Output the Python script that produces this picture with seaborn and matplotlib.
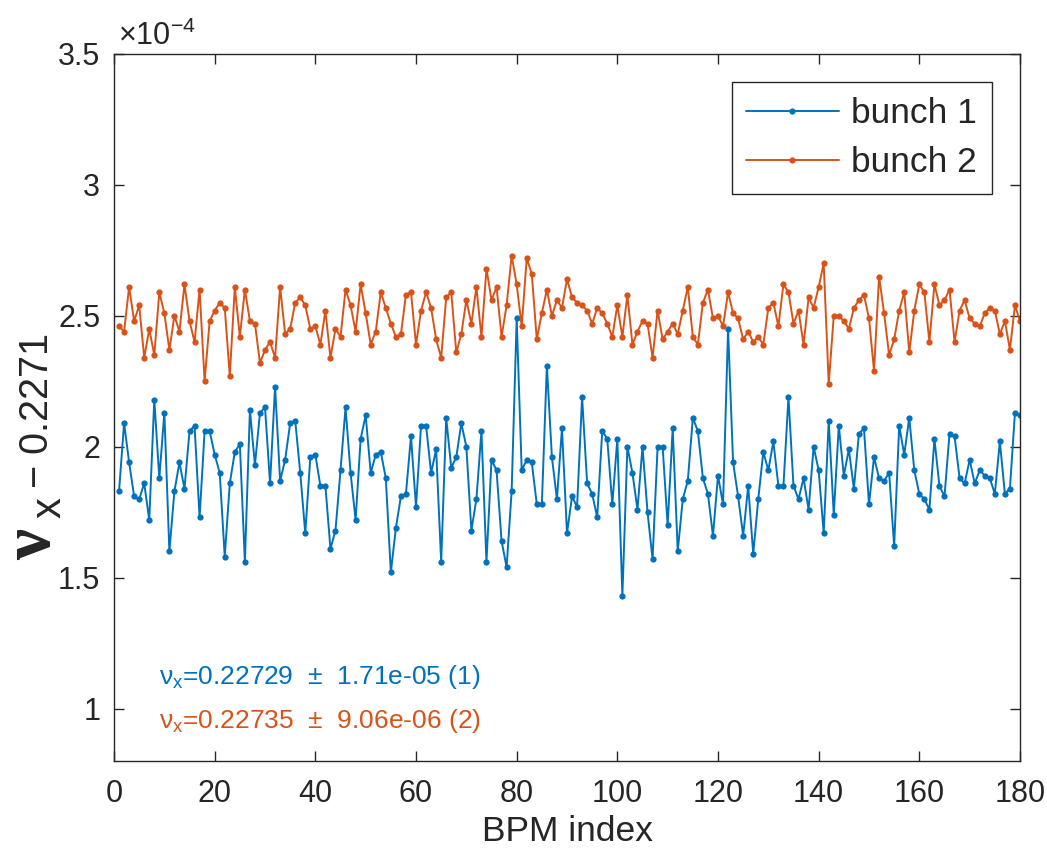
import numpy as np
import pandas as pd
import seaborn as sns
from matplotlib import pyplot as plt

# tune shift nu_x - 0.2271, in units of 1e-4
bpm = list(range(1, 181))
bunch1 = [1.83, 2.09, 1.94, 1.81, 1.80, 1.86, 1.72, 2.18, 1.88, 2.13,
          1.60, 1.83, 1.94, 1.84, 2.06, 2.08, 1.73, 2.06, 2.06, 1.97,
          1.90, 1.58, 1.86, 1.98, 2.01, 1.56, 2.14, 1.93, 2.13, 2.15,
          1.86, 2.23, 1.87, 1.95, 2.09, 2.10, 1.90, 1.67, 1.96, 1.97,
          1.85, 1.85, 1.61, 1.68, 1.91, 2.15, 1.90, 1.72, 2.03, 2.12,
          1.90, 1.97, 1.98, 1.88, 1.52, 1.69, 1.81, 1.82, 2.04, 1.77,
          2.08, 2.08, 1.90, 1.99, 1.56, 2.11, 1.92, 1.96, 2.09, 2.00,
          1.68, 1.80, 2.06, 1.56, 1.95, 1.91, 1.64, 1.54, 1.83, 2.49,
          1.91, 1.95, 1.94, 1.78, 1.78, 2.31, 1.96, 1.80, 2.07, 1.67,
          1.81, 1.77, 2.19, 1.86, 1.82, 1.73, 2.06, 2.03, 1.78, 2.03,
          1.43, 2.00, 1.90, 1.76, 2.00, 1.75, 1.57, 2.00, 2.00, 1.70,
          2.07, 1.60, 1.80, 1.87, 2.11, 2.06, 1.88, 1.82, 1.66, 1.89,
          1.78, 2.45, 1.94, 1.81, 1.66, 1.85, 1.59, 1.80, 1.98, 1.91,
          2.02, 1.85, 1.85, 2.19, 1.85, 1.80, 1.88, 1.76, 2.00, 1.91,
          1.67, 2.10, 1.74, 2.08, 1.89, 1.99, 1.84, 2.05, 2.07, 1.78,
          1.96, 1.88, 1.87, 1.90, 1.62, 2.08, 1.97, 2.11, 1.91, 1.82,
          1.80, 1.76, 2.03, 1.85, 1.81, 2.05, 2.04, 1.88, 1.86, 1.95,
          1.86, 1.91, 1.89, 1.88, 1.82, 2.02, 1.82, 1.84, 2.13, 2.12]
bunch2 = [2.46, 2.44, 2.61, 2.48, 2.54, 2.34, 2.45, 2.35, 2.59, 2.51,
          2.37, 2.50, 2.44, 2.62, 2.48, 2.40, 2.60, 2.25, 2.48, 2.52,
          2.55, 2.53, 2.27, 2.61, 2.42, 2.60, 2.48, 2.47, 2.32, 2.37,
          2.40, 2.34, 2.61, 2.43, 2.45, 2.55, 2.57, 2.54, 2.45, 2.46,
          2.39, 2.52, 2.34, 2.45, 2.42, 2.60, 2.54, 2.44, 2.62, 2.51,
          2.39, 2.44, 2.59, 2.53, 2.47, 2.42, 2.43, 2.58, 2.59, 2.39,
          2.52, 2.59, 2.53, 2.41, 2.34, 2.57, 2.59, 2.36, 2.43, 2.56,
          2.47, 2.61, 2.42, 2.68, 2.56, 2.61, 2.42, 2.54, 2.73, 2.62,
          2.46, 2.72, 2.66, 2.41, 2.51, 2.60, 2.50, 2.56, 2.53, 2.64,
          2.57, 2.55, 2.54, 2.52, 2.47, 2.53, 2.51, 2.47, 2.42, 2.54,
          2.42, 2.58, 2.39, 2.44, 2.48, 2.47, 2.34, 2.52, 2.41, 2.44,
          2.47, 2.43, 2.52, 2.61, 2.42, 2.39, 2.55, 2.60, 2.49, 2.50,
          2.46, 2.59, 2.51, 2.49, 2.41, 2.44, 2.40, 2.42, 2.39, 2.53,
          2.55, 2.46, 2.62, 2.59, 2.47, 2.52, 2.39, 2.57, 2.53, 2.61,
          2.70, 2.24, 2.50, 2.50, 2.48, 2.45, 2.53, 2.56, 2.58, 2.49,
          2.29, 2.65, 2.51, 2.35, 2.41, 2.52, 2.59, 2.36, 2.52, 2.62,
          2.59, 2.40, 2.62, 2.54, 2.56, 2.60, 2.40, 2.52, 2.56, 2.49,
          2.47, 2.46, 2.51, 2.53, 2.52, 2.43, 2.48, 2.37, 2.54, 2.48]
labels = ["bunch 1", "bunch 2"]
colors = ["#0072BD", "#D95319"]
fit_text = ["0.22729", "0.22735"]
fit_err = ["1.71e-05", "9.06e-06"]

df = pd.DataFrame({
    "BPM": bpm * 2,
    "dnu": bunch1 + bunch2,
    "bunch": [labels[0]] * len(bpm) + [labels[1]] * len(bpm),
})

sns.set_style("ticks")
gray = "#262626"
plt.rcParams["font.family"] = ["Liberation Sans", "DejaVu Sans"]
plt.rcParams["mathtext.fontset"] = "custom"
plt.rcParams["mathtext.rm"] = "Liberation Sans"
plt.rcParams["mathtext.it"] = "Liberation Sans"
plt.rcParams["axes.edgecolor"] = gray
plt.rcParams["xtick.color"] = gray
plt.rcParams["ytick.color"] = gray

fig = plt.figure(figsize=(10.47, 8.56), dpi=100)
ax = fig.add_axes([0.1089, 0.111, 0.8653, 0.826])

sns.lineplot(data=df, x="BPM", y="dnu", hue="bunch", palette=colors,
             marker="o", markersize=4.5, markeredgewidth=0, linewidth=1.4,
             ax=ax, legend=False)

ax.set_xlim(0, 180)
ax.set_ylim(0.8, 3.5)
ax.set_xticks(np.arange(0, 181, 20))
ax.set_yticks([1, 1.5, 2, 2.5, 3, 3.5])
ax.set_yticklabels(["1", "1.5", "2", "2.5", "3", "3.5"])
ax.tick_params(direction="in", length=7, width=1, labelsize=22,
               top=True, right=True)
ax.tick_params(axis="x", pad=13)
ax.tick_params(axis="y", pad=10)
for s in ax.spines.values():
    s.set_linewidth(1.0)
    s.set_visible(True)

ax.set_xlabel("BPM index", fontsize=25.5, color=gray, labelpad=4)
ax.set_ylabel("")

# y label drawn in pieces: big serif nu, subscript x, rest
fig.text(33 / 1047, 1 - 545 / 856, "ν", rotation=90, fontsize=50,
         family="Liberation Serif", weight="bold", ha="center", va="center")
fig.text(50 / 1047, 1 - 508 / 856, "x", rotation=90, fontsize=30,
         ha="center", va="center")
fig.text(37 / 1047, 1 - 410 / 856, "− 0.2271", rotation=90, fontsize=28.5,
         ha="center", va="center")

fig.text(118 / 1047, 1 - 45 / 856, r"$\times\mathregular{10^{-4}}$",
         fontsize=22, color=gray, ha="left", va="baseline")

for k in range(2):
    ax.text(9, 1.12 - 0.166 * k,
            "ν$_{\\mathregular{x}}$=" + fit_text[k] + "  ±  " + fit_err[k] + " (" + str(k + 1) + ")",
            color=colors[k], fontsize=19, ha="left", va="center")

handles = [plt.Line2D([], [], color=c, marker="o", markersize=4.5,
                      markeredgewidth=0, linewidth=1.4) for c in colors]
leg = ax.legend(handles, labels, loc="upper right", fontsize=25.5,
                frameon=True, fancybox=False, framealpha=1,
                edgecolor=gray, handlelength=2.6, handletextpad=0.35,
                labelspacing=0.45, borderpad=0.42, borderaxespad=0.8)
leg.get_frame().set_linewidth(1.0)

plt.savefig("out.png", dpi=100)
